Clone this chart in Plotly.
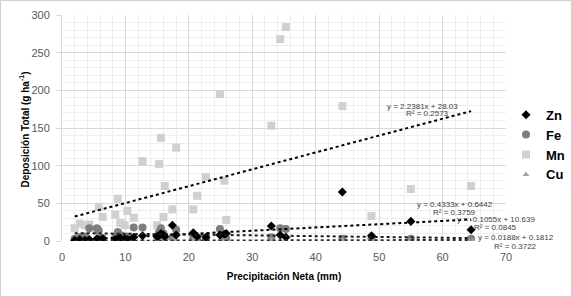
import plotly.graph_objects as go

# Precipitación neta (mm) for each sampling event
precip = [2.0, 2.8, 3.6, 4.3, 5.5, 5.8, 6.4, 8.4, 8.8, 9.2, 9.9, 10.3, 11.3, 12.7,
          15.0, 15.3, 15.6, 16.0, 16.2, 17.4, 18.0, 20.7, 21.3, 22.7, 24.9, 25.6,
          25.9, 33.0, 34.4, 35.3, 44.2, 48.8, 55.0, 64.5]

zn = [1, 2, 1, 2, 3, 2, 3, 2, 3, 4, 3, 2, 5, 7,
      6, 7, 10, 8, 6, 21, 8, 11, 6, 5, 8, 9,
      10, 20, 8, 5, 65, 7, 26, 15]
fe = [3, 5, 6, 17, 17, 14, 4, 5, 12, 8, 4, 6, 18, 18,
      6, 12, 17, 10, 4, 5, 15, 4, 3, 3, 16, 4,
      3, 5, 17, 16, 3, 3, 3, 3]
mn = [17, 23, 21, 22, 14, 45, 32, 35, 56, 24, 21, 40, 31, 106,
      21, 102, 137, 32, 73, 42, 124, 42, 60, 85, 195, 80,
      28, 153, 268, 284, 179, 33, 69, 73]
cu = [0.5, 1, 0.5, 1, 1.5, 1, 0.5, 1, 1.5, 1, 0.5, 1, 1.5, 1,
      1, 1.5, 1, 1, 0.5, 1.5, 1, 1, 0.5, 0.5, 1.5, 1,
      0.5, 1.5, 1, 0.5, 1, 1, 1.5, 2]

# Trend line coefficients (slope, intercept) and labels
trend_mn = (2.2381, 28.03)
trend_zn = (0.4333, 0.6442)
trend_fe = (-0.1055, 10.639)
trend_cu = (0.0188, 0.1812)
labels = {
    "Mn": ("y = 2.2381x + 28.03", "R² = 0.2573"),
    "Zn": ("y = 0.4333x + 0.6442", "R² = 0.3759"),
    "Fe": ("y = -0.1055x + 10.639", "R² = 0.0845"),
    "Cu": ("y = 0.0188x + 0.1812", "R² = 0.3722"),
}

X_RANGE = [0, 70]
Y_RANGE = [0, 300]
FONT = "Liberation Sans, Arial, sans-serif"
fig = go.Figure()

series = {
    "Zn": (zn, dict(symbol="diamond", size=7, color="#000000")),
    "Fe": (fe, dict(symbol="circle", size=8, color="#7f7f7f")),
    "Mn": (mn, dict(symbol="square", size=8, color="#d0d0d0")),
    "Cu": (cu, dict(symbol="triangle-up", size=6, color="#a5a5a5")),
}
rank = {"Zn": 1, "Fe": 2, "Mn": 3, "Cu": 4}
for name in ["Mn", "Fe", "Cu", "Zn"]:
    vals, mk = series[name]
    fig.add_trace(go.Scatter(x=precip, y=vals, mode="markers", name=name,
                             marker=mk, legendrank=rank[name]))

xmin, xmax = min(precip), max(precip)
for coef, col in [(trend_mn, "#000000"), (trend_zn, "#000000"),
                  (trend_fe, "#1a1a1a"), (trend_cu, "#3a2a10")]:
    m, b = coef
    fig.add_trace(go.Scatter(x=[xmin, xmax], y=[m * xmin + b, m * xmax + b], mode="lines",
                             line=dict(color=col, width=2, dash="dot"),
                             showlegend=False, hoverinfo="skip"))

# label positions (in data units, converted to paper so labels outside the range still show)
lab_pos = {
    "Mn": ((56.9, 178), (57.7, 169)),
    "Zn": ((62.0, 49.1), (61.9, 37.2)),
    "Fe": ((68.5, 29.2), (68.4, 17.3)),
    "Cu": ((71.5, 4.0), (71.5, -7.5)),
}
for k, (l1, l2) in labels.items():
    (x1, y1), (x2, y2) = lab_pos[k]
    for t, xx, yy in [(l1, x1, y1), (l2, x2, y2)]:
        fig.add_annotation(x=(xx - X_RANGE[0]) / (X_RANGE[1] - X_RANGE[0]),
                           y=(yy - Y_RANGE[0]) / (Y_RANGE[1] - Y_RANGE[0]),
                           xref="paper", yref="paper", text=t, showarrow=False,
                           font=dict(family=FONT, size=8, color="#404040"),
                           xanchor="center", yanchor="middle")

# y-axis title as a rotated annotation
fig.add_annotation(x=-38 / 444, y=0.493, xref="paper", yref="paper",
                   text="<b>Deposición Total (g ha<sup>-1</sup>)</b>", textangle=-90,
                   showarrow=False, xanchor="center", yanchor="middle",
                   font=dict(family=FONT, size=10, color="#000000"))

grid_major = "#d9d9d9"
grid_minor = "#eeeeee"
fig.update_xaxes(range=X_RANGE, dtick=10, showgrid=True, gridcolor=grid_major, gridwidth=1,
                 minor=dict(dtick=2, showgrid=True, gridcolor=grid_minor, gridwidth=1),
                 zeroline=False, showline=False, ticks="", ticklabelstandoff=8,
                 tickfont=dict(family=FONT, size=11, color="#595959"),
                 title=dict(text="<b>Precipitación Neta (mm)</b>",
                            font=dict(family=FONT, size=10, color="#000000"), standoff=10))
fig.update_yaxes(range=Y_RANGE, dtick=50, showgrid=True, gridcolor=grid_major, gridwidth=1,
                 minor=dict(dtick=10, showgrid=True, gridcolor=grid_minor, gridwidth=1),
                 zeroline=False, showline=True, linecolor="#d9d9d9", ticks="outside",
                 ticklen=5, tickcolor="#d9d9d9", ticklabelstandoff=4,
                 tickfont=dict(family=FONT, size=11, color="#595959"))

fig.update_layout(
    width=572, height=297,
    margin=dict(l=62, r=66, t=15, b=56, autoexpand=False),
    paper_bgcolor="white", plot_bgcolor="white",
    legend=dict(x=1.0, y=0.625, xanchor="left", yanchor="top",
                font=dict(family=FONT, size=13, color="#000000", weight="bold"),
                itemwidth=30, bgcolor="rgba(0,0,0,0)"),
    shapes=[dict(type="rect", xref="paper", yref="paper",
                 x0=-61.5 / 444, x1=509.5 / 444, y0=-55.5 / 226, y1=240.5 / 226,
                 line=dict(color="#d0d0d0", width=1))],
)

fig.write_html("out.html", config={"displayModeBar": False},
               post_script="document.body.style.margin='0';")
